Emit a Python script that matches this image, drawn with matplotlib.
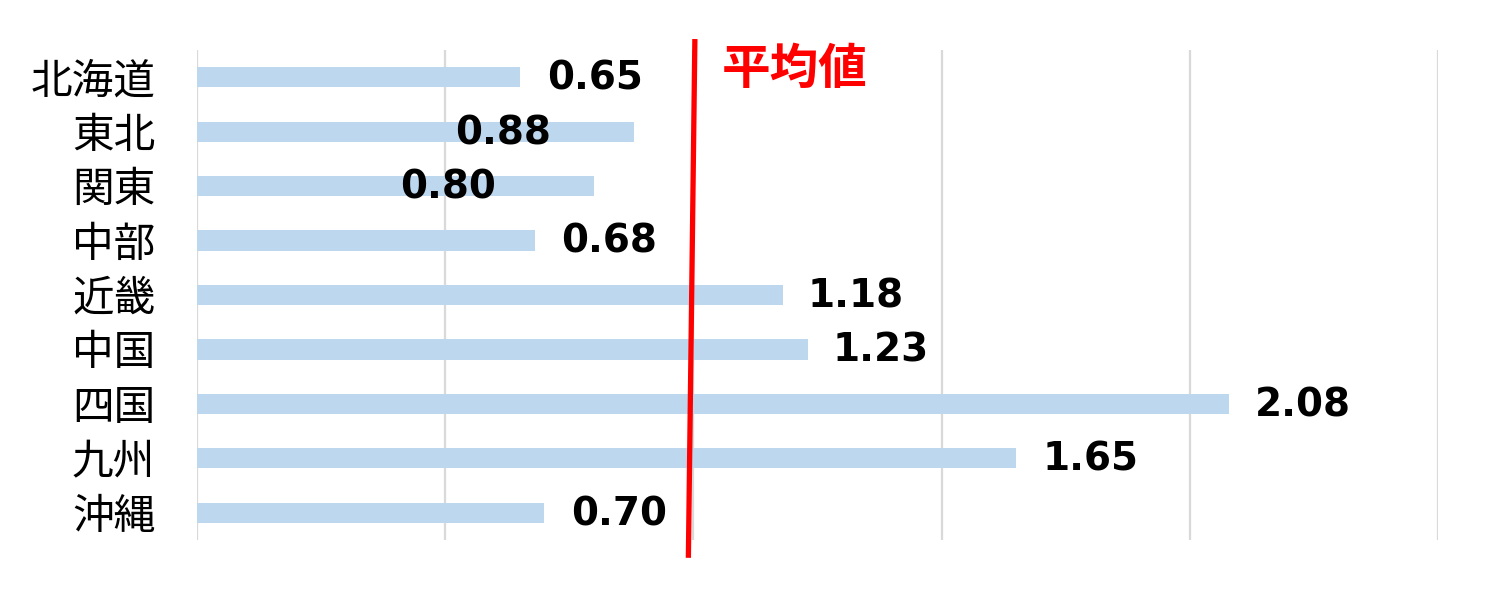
import matplotlib
matplotlib.use("Agg")
import matplotlib.pyplot as plt
import matplotlib.transforms as mtransforms

plt.rcParams['font.family'] = ['Noto Sans CJK JP', 'DejaVu Sans']

regions = ['北海道', '東北', '関東', '中部', '近畿', '中国', '四国', '九州', '沖縄']
values = [0.65, 0.88, 0.80, 0.68, 1.18, 1.23, 2.08, 1.65, 0.70]
average = 1.0
avg_label = '平均値'

# label offsets (points) from the bar end, two of them were dragged left in the original
label_shift = [20, -129, -140, 19, 18, 18, 18, 19, 19]

fig = plt.figure(figsize=(14.89, 5.91), dpi=100)
ax = fig.add_axes([0.1323, 0.0863, 0.8334, 0.8291])

y = list(range(len(regions)))
ax.barh(y, values, height=0.37, color='#BDD7EE', zorder=2)

for yi, v, dx in zip(y, values, label_shift):
    ax.annotate(f'{v:.2f}', (v, yi), xytext=(dx, -1), textcoords='offset points',
                ha='left', va='center', fontsize=28, fontweight='bold',
                family='DejaVu Sans', color='black', zorder=4)

ax.set_xlim(0, 2.5)
ax.set_ylim(len(regions) - 0.5, -0.5)
ax.set_xticks([0, 0.5, 1.0, 1.5, 2.0, 2.5])
ax.set_xticklabels([])
ax.grid(axis='x', color='#D9D9D9', linewidth=1.6, zorder=0)
ax.set_axisbelow(True)
ax.set_yticks(y)
ax.set_yticklabels(regions, fontsize=30)
ax.tick_params(axis='both', length=0, pad=30)
for s in ax.spines.values():
    s.set_visible(False)

# hand-drawn average line, slightly slanted
trans = mtransforms.blended_transform_factory(ax.transData, ax.transAxes)
ax.plot([average + 0.003, average - 0.01], [1.017, -0.031], color='#FF0000',
        linewidth=3.8, transform=trans, clip_on=False, zorder=5)
ax.text(average + 0.058, 0.96, avg_label, transform=trans, color='#FF0000',
        fontsize=35, fontweight='bold', ha='left', va='center', zorder=5)

fig.savefig('out.png', dpi=100)
